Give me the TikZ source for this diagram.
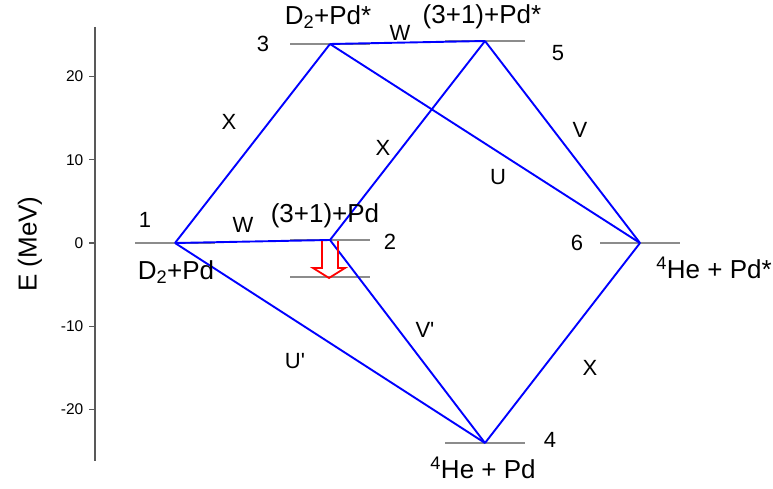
\documentclass[tikz,border=0pt]{standalone}
\usepackage{fontspec}
\setmainfont{Liberation Sans}
\usetikzlibrary{positioning,calc}
\tikzset{
  lvl/.style   ={draw=black!45, line width=2.2pt},
  tr/.style    ={draw=blue, line width=1.9pt, line join=miter},
  axisline/.style={draw=black!65, line width=1.3pt},
  dn/.style    ={draw=red, line width=1.8pt},
  spec/.style  ={font=\fontsize{26}{28}\selectfont, inner sep=0pt},
  num/.style   ={font=\fontsize{22}{24}\selectfont, inner sep=0pt},
  tk/.style    ={font=\fontsize{15.5}{17}\selectfont, inner sep=0pt, anchor=east},
}
\newcommand{\mev}[1]{243-8.33*#1}

\begin{document}
\begin{tikzpicture}[x=1pt, y=-1pt]
  \useasboundingbox (0,0) rectangle (773,489);

  % ---- energy axis ---------------------------------------------------
  \draw[axisline] (95,27) -- (95,461);
  \foreach \v in {20,10,0,-10,-20}
    \draw[axisline] (89,{\mev{\v}}) -- (95,{\mev{\v}})
      node[tk, at start, xshift=-5pt] (t\v) {\v};
  \node[spec, rotate=90] (elab) at (30,244) {E (MeV)};

  % ---- levels --------------------------------------------------------
  \coordinate (n1) at (175,243);
  \coordinate (n2) at (330,240);
  \coordinate (n2d) at (330,277);
  \coordinate (n3) at (330,44);
  \coordinate (n4) at (485,443);
  \coordinate (n5) at (485,41);
  \coordinate (n6) at (640,243);
  \foreach \n in {n1,n2,n2d,n3,n4,n5,n6}
    \draw[lvl] ([xshift=-40pt]\n) -- ([xshift=40pt]\n);

  % ---- transitions ---------------------------------------------------
  \draw[tr] (n1) -- (n3);
  \draw[tr] (n1) -- (n2);
  \draw[tr] (n3) -- (n5);
  \draw[tr] (n3) -- (n6);
  \draw[tr] (n2) -- (n5);
  \draw[tr] (n5) -- (n6);
  \draw[tr] (n1) -- (n4);
  \draw[tr] (n2) -- (n4);
  \draw[tr] (n6) -- (n4);

  % hollow down arrow 2 -> lower level
  \draw[dn] ($(n2)+(-8,1)$) -- ++(0,27) -- ++(-9,0) -- ($(n2d)+(-1,1)$)
            -- ($(n2)+(15,28)$) -- ++(-7,0) -- ($(n2)+(8,1)$);

  % ---- level names and numbers ---------------------------------------
  \node[num]  (k1) at (145,220) {1};
  \node[spec] (s1) at (176,272) {D\textsubscript{2}+Pd};
  \node[num]  (k3) at (263,44)  {3};
  \node[spec] (s3) at (328,17)  {D\textsubscript{2}+Pd*};
  \node[spec] (s5) at (482,17)  {(3+1)+Pd*};
  \node[num]  (k5) at (558,53)  {5};
  \node[spec] (s2) at (325,216) {(3+1)+Pd};
  \node[num]  (k2) at (390,242) {2};
  \node[num]  (k6) at (577,243) {6};
  \node[spec] (s6) at (714,268) {\textsuperscript{4}He + Pd*};
  \node[num]  (k4) at (550,440) {4};
  \node[spec] (s4) at (483,468) {\textsuperscript{4}He + Pd};

  % ---- transition labels ---------------------------------------------
  \node[num] (wtop) at (400,33)  {W};
  \node[num] (wlow) at (243,225) {W};
  \node[num] (x13)  at (229,122) {X};
  \node[num] (x25)  at (383,148) {X};
  \node[num] (x64)  at (590,368) {X};
  \node[num] (v56)  at (580,130) {V};
  \node[num] (u36)  at (498,177) {U};
  \node[num] (v24)  at (425,330) {V\textquotesingle};
  \node[num] (u14)  at (295,361) {U\textquotesingle};
\end{tikzpicture}
\end{document}
